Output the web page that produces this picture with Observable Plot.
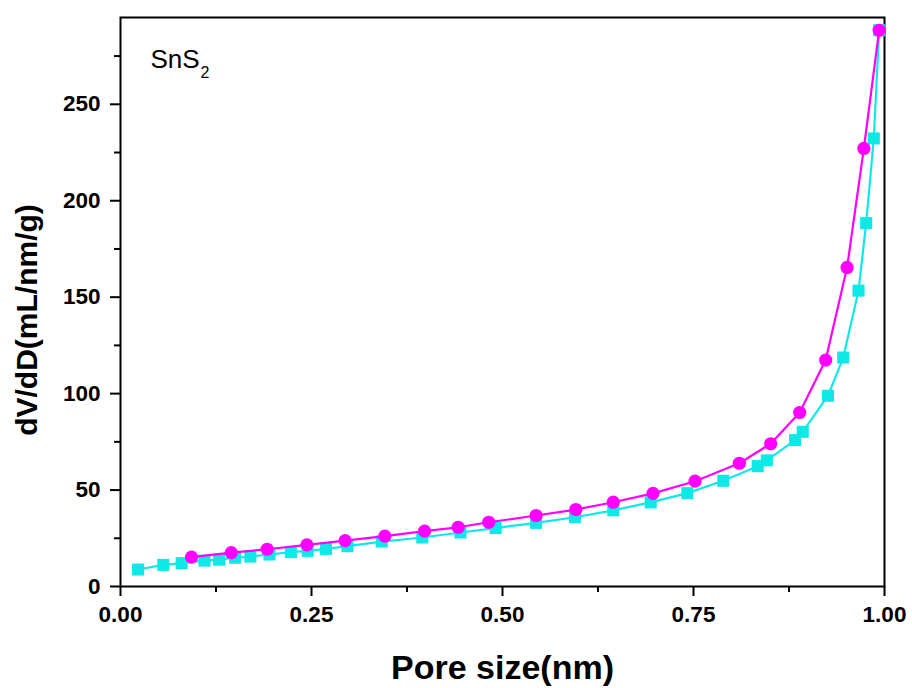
<!DOCTYPE html>
<html>
<head>
<meta charset="utf-8">
<script src="https://cdn.jsdelivr.net/npm/d3@7"></script>
<script src="https://cdn.jsdelivr.net/npm/@observablehq/plot@0.6"></script>
<style>
  html, body { margin: 0; padding: 0; background: #fff; }
  #chart { width: 912px; height: 688px; }
</style>
</head>
<body>
<div id="chart"></div>
<script>
// Series 1: magenta circles
const poreCircle = [0.093, 0.145, 0.192, 0.244, 0.294, 0.346, 0.398, 0.442, 0.482, 0.544, 0.596, 0.645, 0.697, 0.752, 0.810, 0.851, 0.889, 0.923, 0.951, 0.973, 0.993];
const dvdCircle  = [15.2, 17.6, 19.3, 21.6, 23.8, 26.1, 28.7, 30.7, 33.3, 36.8, 39.9, 43.7, 48.3, 54.6, 63.9, 74.0, 90.2, 117.4, 165.4, 227.1, 288.4];

// Series 2: cyan squares
const poreSquare = [0.023, 0.056, 0.080, 0.110, 0.129, 0.150, 0.170, 0.195, 0.223, 0.245, 0.269, 0.297, 0.342, 0.395, 0.445, 0.491, 0.544, 0.595, 0.645, 0.694, 0.742, 0.789, 0.834, 0.846, 0.883, 0.893, 0.926, 0.946, 0.966, 0.976, 0.986, 0.993];
const dvdSquare  = [8.8, 11.2, 12.1, 13.4, 13.9, 14.9, 15.5, 16.6, 17.8, 18.5, 19.5, 20.9, 23.3, 25.4, 28.0, 30.3, 33.0, 35.9, 39.5, 43.6, 48.4, 54.8, 62.4, 65.4, 75.9, 80.2, 98.9, 118.7, 153.4, 188.4, 232.3, 288.4];

// Ticks and labels
const xTicks = [0, 0.25, 0.5, 0.75, 1.0];
const xMinorTicks = [0.125, 0.375, 0.625, 0.875];
const yTicks = [0, 50, 100, 150, 200, 250];
const yMinorTicks = [25, 75, 125, 175, 225, 275];
const xLabel = ["Pore size(nm)"];
const yLabel = ["dV/dD(mL/nm/g)"];
const sampleName = ["SnS"];
const sampleSub = ["2"];

const circles = poreCircle.map((x, i) => ({x, y: dvdCircle[i]}));
const squares = poreSquare.map((x, i) => ({x, y: dvdSquare[i]}));

const magenta = "#ff00ff";
const cyan = "#10e8e8";

const chart = Plot.plot({
  width: 912,
  height: 688,
  marginLeft: 120,
  marginRight: 28,
  marginTop: 17,
  marginBottom: 102,
  style: {fontFamily: "'Liberation Sans', Arial, sans-serif", fontSize: "22.5px", fontWeight: "bold", background: "#fff", color: "#000"},
  x: {domain: [0, 1]},
  y: {domain: [0, 295]},
  marks: [
    Plot.axisX(xTicks, {tickSize: 10, tickPadding: 10, strokeWidth: 2, tickFormat: d => d.toFixed(2), fontWeight: "bold", label: null}),
    Plot.axisX(xMinorTicks, {tickSize: 6, strokeWidth: 2, tickFormat: () => "", label: null}),
    Plot.axisY(yTicks, {tickSize: 10, tickPadding: 10, strokeWidth: 2, tickFormat: d => String(d), fontWeight: "bold", label: null}),
    Plot.axisY(yMinorTicks, {tickSize: 6, strokeWidth: 2, tickFormat: () => "", label: null}),
    Plot.frame({stroke: "#000", strokeWidth: 2}),
    Plot.line(squares, {x: "x", y: "y", stroke: cyan, strokeWidth: 2.2}),
    Plot.dot(squares, {x: "x", y: "y", symbol: "square", r: 6.8, fill: cyan, stroke: "none"}),
    Plot.line(circles, {x: "x", y: "y", stroke: magenta, strokeWidth: 2.2}),
    Plot.dot(circles, {x: "x", y: "y", symbol: "circle", r: 6.6, fill: magenta, stroke: "none"}),
    Plot.text(sampleName, {frameAnchor: "top-left", dx: 30, dy: 50, textAnchor: "start", lineAnchor: "bottom", fontSize: 26, fontWeight: "normal", fill: "#000"}),
    Plot.text(sampleSub, {frameAnchor: "top-left", dx: 80, dy: 60, textAnchor: "start", lineAnchor: "bottom", fontSize: 16, fontWeight: "normal", fill: "#000"}),
    Plot.text(xLabel, {frameAnchor: "bottom", dy: 92, textAnchor: "middle", lineAnchor: "bottom", fontSize: 34, fontWeight: "bold", fill: "#000"}),
    Plot.text(yLabel, {frameAnchor: "left", dx: -93, dy: 18, rotate: -90, textAnchor: "middle", lineAnchor: "middle", fontSize: 30, fontWeight: "bold", fill: "#000"})
  ]
});
document.getElementById("chart").appendChild(chart);
</script>
</body>
</html>
